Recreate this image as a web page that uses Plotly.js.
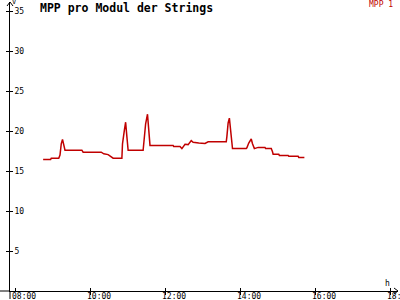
<!DOCTYPE html>
<html>
<head>
<meta charset="utf-8">
<script src="https://cdn.plot.ly/plotly-3.0.1.min.js"></script>
<style>html,body{margin:0;padding:0;background:#fff}#chart{width:400px;height:300px}</style>
</head>
<body>
<div id="chart"></div>
<script>
var day = '2024-01-01 ';
var times = ['08:45','08:57','08:58','09:10','09:12','09:14','09:16','09:18','09:20','09:47','09:49','10:18','10:22','10:29','10:32','10:37','10:51','10:52','10:55','10:57','10:59','11:01','11:25','11:27','11:29','11:32','11:34','11:36','12:13','12:14','12:24','12:27','12:32','12:37','12:42','12:45','12:54','13:04','13:09','13:38','13:39','13:41','13:43','13:45','13:48','14:10','14:11','14:14','14:18','14:20','14:23','14:29','14:40','14:41','14:50','14:52','14:53','15:02','15:03','15:17','15:18','15:33','15:34','15:43'];
var mpp1 = [16.45,16.45,16.6,16.6,17.0,18.4,18.95,18.2,17.6,17.6,17.35,17.35,17.15,17.05,16.9,16.6,16.6,18.4,20.1,21.1,19.3,17.6,17.6,19.0,20.9,22.1,20.1,18.2,18.2,18.05,18.05,17.8,18.35,18.3,18.8,18.6,18.5,18.45,18.65,18.65,19.3,21.0,21.6,19.8,17.8,17.8,17.9,18.5,19.0,18.4,17.8,17.95,17.95,17.8,17.8,17.4,17.1,17.1,16.95,16.95,16.85,16.85,16.7,16.7];
var yTicks = [5,10,15,20,25,30,35];
var xTickTexts = ['08:00','10:00','12:00','14:00','16:00','18:00'];
var seriesName = 'MPP 1';
var chartTitle = 'MPP pro Modul der Strings';

var xs = times.map(function(t){return day + t;});
var xTickVals = xTickTexts.map(function(t){return day + t;});
var xRange = [day + '07:52', day + '18:12:48'];
var yRange = [0, 36.125];
var mono = 'DejaVu Sans Mono, monospace';
var fnt = {family: mono, size: 8, color: '#000'};

var traces = [
  {x: xs, y: mpp1, type: 'scatter', mode: 'lines', name: seriesName,
   line: {color: '#c00000', width: 1.5, shape: 'linear'}, hoverinfo: 'skip'},
  {x: xs, y: mpp1, xaxis: 'x2', yaxis: 'y2', type: 'scatter', mode: 'lines',
   line: {color: 'rgba(0,0,0,0)', width: 0}, hoverinfo: 'skip', showlegend: false}
];

var annotations = xTickTexts.map(function(t, i){
  return {text: t, xref: 'x', yref: 'paper', x: xTickVals[i], y: -5.5/289, xanchor: 'center', yanchor: 'middle',
          xshift: 9, showarrow: false, borderpad: 0, font: fnt};
});
annotations.push(
  {text: seriesName, xref: 'paper', yref: 'paper', x: (394-10)/388, xanchor: 'right', y: 1 - 2.5/289, yanchor: 'middle',
   showarrow: false, borderpad: 0, font: {family: mono, size: 8, color: '#c00000'}},
  {text: 'V', xref: 'paper', yref: 'paper', x: 4/388, xanchor: 'center', y: 1, yanchor: 'middle',
   showarrow: false, borderpad: 0, font: {family: mono, size: 7, color: '#000'}},
  {text: 'h', xref: 'paper', yref: 'paper', x: 377/388, xanchor: 'center', y: 8/289, yanchor: 'middle',
   showarrow: false, borderpad: 0, font: fnt}
);

var layout = {
  width: 400, height: 300,
  margin: {l: 10, r: 2, t: 2, b: 9, pad: 0},
  paper_bgcolor: '#ffffff', plot_bgcolor: '#ffffff',
  showlegend: false,
  title: {text: chartTitle, font: {family: mono, size: 11.5, color: '#000', weight: 'bold'},
          x: 40/400, xanchor: 'left', xref: 'container', y: 1 - 8/300, yanchor: 'middle', yref: 'container'},
  xaxis: {type: 'date', range: xRange, showgrid: false, zeroline: false, showline: true, linecolor: '#000', linewidth: 1,
          tickmode: 'array', tickvals: xTickVals, ticks: 'outside', ticklen: 3, tickcolor: '#000', tickwidth: 1,
          showticklabels: false, fixedrange: true},
  yaxis: {range: yRange, showgrid: false, zeroline: false, showline: true, linecolor: '#000', linewidth: 1,
          tickmode: 'array', tickvals: yTicks, ticks: 'outside', ticklen: 3, tickcolor: '#000', tickwidth: 1,
          ticklabelposition: 'inside', tickfont: fnt, ticklabelstandoff: 3, fixedrange: true},
  xaxis2: {type: 'date', range: xRange, overlaying: 'x', anchor: 'y2', showgrid: false, zeroline: false, showline: false,
           tickmode: 'array', tickvals: xTickVals, ticks: 'inside', ticklen: 3, tickcolor: '#000', showticklabels: false},
  yaxis2: {range: yRange, overlaying: 'y', anchor: 'x2', side: 'left', showgrid: false, zeroline: false, showline: false,
           tickmode: 'array', tickvals: yTicks, ticks: 'inside', ticklen: 3, tickcolor: '#000', showticklabels: false},
  shapes: [
    {type: 'line', xref: 'paper', yref: 'paper', x0: -10/388, x1: 0, y0: 0, y1: 0, line: {color: '#000', width: 1}},
    {type: 'line', xref: 'paper', yref: 'paper', x0: 0, x1: 0, y0: -8/289, y1: 0, line: {color: '#000', width: 1}},
    {type: 'path', xref: 'paper', yref: 'paper', xsizemode: 'pixel', ysizemode: 'pixel', xanchor: 0, yanchor: 1,
     path: 'M-3,-4 L0,0 L3,-4', line: {color: '#000', width: 1}},
    {type: 'path', xref: 'paper', yref: 'paper', xsizemode: 'pixel', ysizemode: 'pixel', xanchor: 1, yanchor: 0,
     path: 'M-4,3 L0,0 L-4,-3', line: {color: '#000', width: 1}}
  ],
  annotations: annotations
};

Plotly.newPlot('chart', traces, layout, {staticPlot: true, displayModeBar: false});
</script>
</body>
</html>
